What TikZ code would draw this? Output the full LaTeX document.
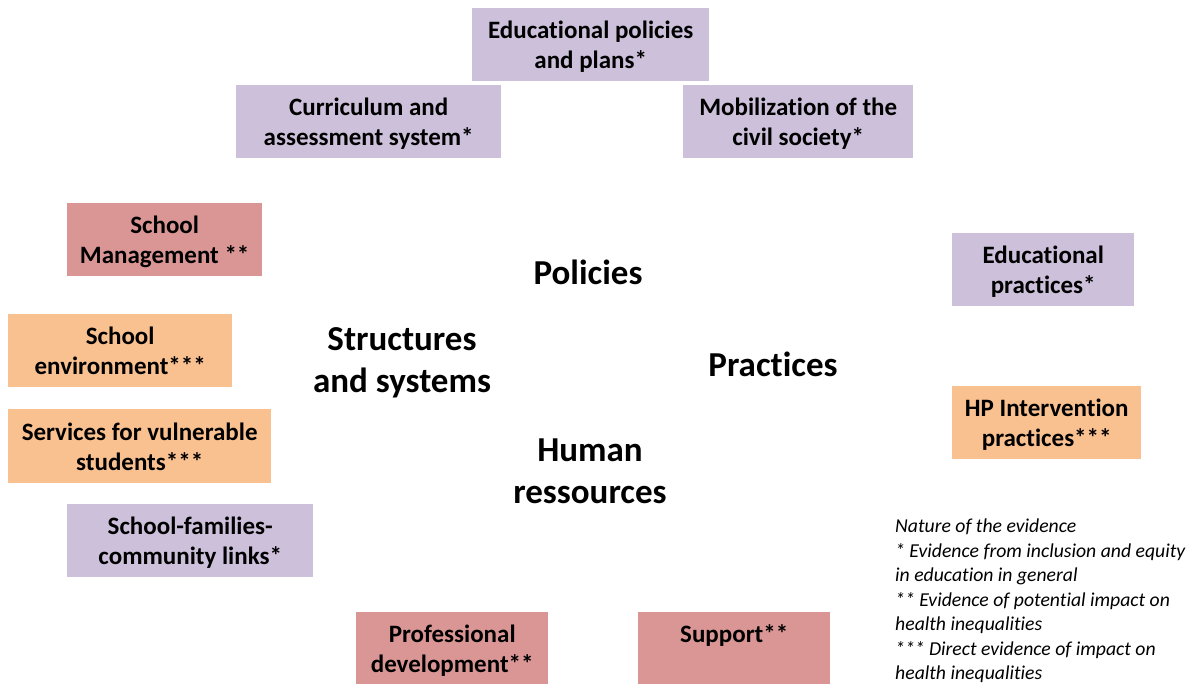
\documentclass[tikz,border=0pt]{standalone}
\usepackage{fontspec}
\setmainfont{Carlito}[Ligatures=NoCommon]
\begin{document}
\begin{tikzpicture}[x=1pt,y=-1pt,
  lav/.style={fill={rgb,255:red,204;green,192;blue,218}},
  rose/.style={fill={rgb,255:red,218;green,150;blue,148}},
  peach/.style={fill={rgb,255:red,249;green,192;blue,144}},
  box/.style={anchor=north west,inner sep=0pt,align=center,
    font=\fontsize{25}{30}\selectfont\bfseries,
    text height=54pt,text depth=6pt},
  theme/.style={inner sep=0pt,align=center,
    font=\fontsize{35}{42}\selectfont\bfseries}]
\useasboundingbox (0,0) rectangle (1198,684);

% policies
\node[box,lav,minimum width=237pt,minimum height=73pt] (edu) at (472,8) {Educational policies\\and plans*};
\node[box,lav,minimum width=265pt,minimum height=73pt] (cur) at (236,85) {Curriculum and\\assessment system*};
\node[box,lav,minimum width=230pt,minimum height=73pt] (mob) at (683,85) {Mobilization of the\\civil society*};

% structures and systems
\node[box,rose,minimum width=195pt,minimum height=73pt] (mgmt) at (67,203) {School\\Management **};
\node[box,peach,minimum width=224pt,minimum height=73pt] (env) at (8,314) {School\\environment***};
\node[box,peach,minimum width=263pt,minimum height=74pt] (serv) at (8,409) {Services for vulnerable\\students***};
\node[box,lav,minimum width=246pt,minimum height=73pt] (fam) at (67,504) {School-families-\\community links*};

% human resources
\node[box,rose,minimum width=192pt,minimum height=72pt] (prof) at (356,612) {Professional\\development**};
\node[box,rose,minimum width=192pt,minimum height=72pt] (supp) at (638,612) {Support**\\\mbox{}};

% practices
\node[box,lav,minimum width=182pt,minimum height=73pt] (edpr) at (952,233) {Educational\\practices*};
\node[box,peach,minimum width=189pt,minimum height=73pt] (hp) at (952,386) {HP Intervention\\practices***};

% central themes
\node[theme] (pol) at (588,272) {Policies};
\node[theme] (str) at (402,363) {Structures\\and systems};
\node[theme] (pra) at (773,364) {Practices};
\node[theme] (hum) at (590,471) {Human\\ressources};

% legend
\node[anchor=north west,inner sep=0pt,align=left,
  font=\fontsize{19.7}{24.5}\selectfont\itshape] (leg) at (895,519)
  {Nature of the evidence\\
   * Evidence from inclusion and equity\\
   in education in general\\
   ** Evidence of potential impact on\\
   health inequalities\\
   *** Direct evidence of impact on\\
   health inequalities};
\end{tikzpicture}
\end{document}
